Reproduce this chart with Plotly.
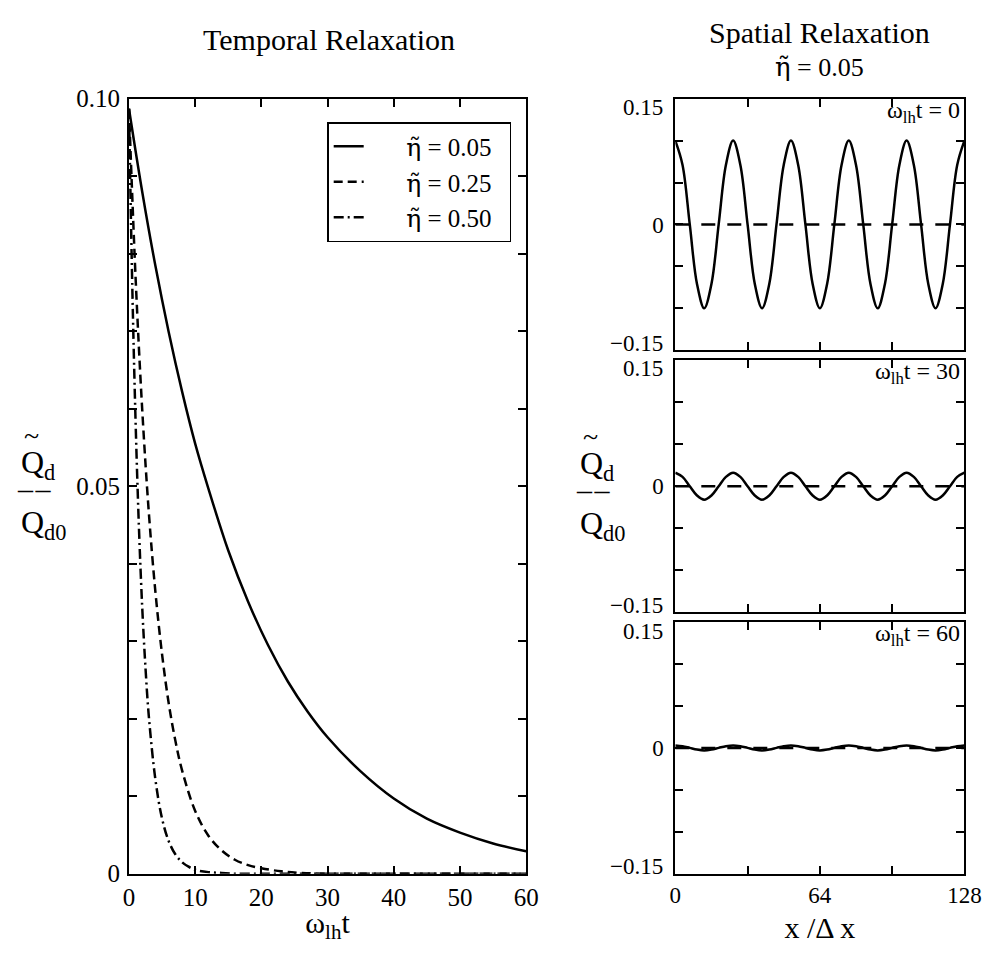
import plotly.graph_objects as go

# ---------------- Temporal relaxation (left panel) ----------------
t_eta005 = [0, 2, 4, 6, 8, 10, 12, 15, 18, 21, 24, 27, 30, 35, 40, 45, 50, 55, 60]
q_eta005 = [0.0987, 0.0880, 0.0784, 0.0699, 0.0623, 0.0555, 0.0497, 0.0417, 0.0351, 0.0295,
            0.0248, 0.0209, 0.0176, 0.0132, 0.0097, 0.0071, 0.0053, 0.0039, 0.0029]

t_eta025 = [0, 1, 2, 3, 4, 5, 6, 7, 8, 10, 12, 14, 16, 18, 20, 23, 26, 30, 40, 50, 60]
q_eta025 = [0.0987, 0.0769, 0.0599, 0.0466, 0.0363, 0.0283, 0.0220, 0.0172, 0.0134, 0.0081,
            0.0049, 0.0030, 0.0018, 0.0011, 0.0007, 0.0003, 0.0001, 0.0, 0.0, 0.0, 0.0]

t_eta050 = [0, 0.5, 1, 1.5, 2, 2.5, 3, 4, 5, 6, 7, 8, 9, 10, 12, 14, 16, 20, 30, 40, 50, 60]
q_eta050 = [0.0987, 0.0758, 0.0583, 0.0448, 0.0344, 0.0265, 0.0203, 0.0121, 0.0071, 0.0042,
            0.0025, 0.0015, 0.0009, 0.0005, 0.0002, 0.0001, 0.0, 0.0, 0.0, 0.0, 0.0, 0.0]

ETA = '<span style="font-family:DejaVu Serif">η̃</span>'
legend_names = [ETA + " = 0.05", ETA + " = 0.25", ETA + " = 0.50"]

# ---------------- Spatial relaxation (right panels) ----------------
x_grid = [0, 3.2, 6.4, 9.6, 12.8, 16, 19.2, 22.4, 25.6, 28.8, 32, 35.2, 38.4, 41.6, 44.8,
          48, 51.2, 54.4, 57.6, 60.8, 64, 67.2, 70.4, 73.6, 76.8, 80, 83.2, 86.4, 89.6,
          92.8, 96, 99.2, 102.4, 105.6, 108.8, 112, 115.2, 118.4, 121.6, 124.8, 128]

wave_t0 = [0.100, 0.071, 0.000, -0.071, -0.100, -0.071, 0.000, 0.071,
           0.100, 0.071, 0.000, -0.071, -0.100, -0.071, 0.000, 0.071,
           0.100, 0.071, 0.000, -0.071, -0.100, -0.071, 0.000, 0.071,
           0.100, 0.071, 0.000, -0.071, -0.100, -0.071, 0.000, 0.071,
           0.100, 0.071, 0.000, -0.071, -0.100, -0.071, 0.000, 0.071,
           0.100]

wave_t30 = [0.016, 0.011, 0.000, -0.011, -0.016, -0.011, 0.000, 0.011,
            0.016, 0.011, 0.000, -0.011, -0.016, -0.011, 0.000, 0.011,
            0.016, 0.011, 0.000, -0.011, -0.016, -0.011, 0.000, 0.011,
            0.016, 0.011, 0.000, -0.011, -0.016, -0.011, 0.000, 0.011,
            0.016, 0.011, 0.000, -0.011, -0.016, -0.011, 0.000, 0.011,
            0.016]

wave_t60 = [0.003, 0.002, 0.000, -0.002, -0.003, -0.002, 0.000, 0.002,
            0.003, 0.002, 0.000, -0.002, -0.003, -0.002, 0.000, 0.002,
            0.003, 0.002, 0.000, -0.002, -0.003, -0.002, 0.000, 0.002,
            0.003, 0.002, 0.000, -0.002, -0.003, -0.002, 0.000, 0.002,
            0.003, 0.002, 0.000, -0.002, -0.003, -0.002, 0.000, 0.002,
            0.003]

zero_x = [0, 128]
zero_y = [0, 0]

panel_labels = ["ω<sub>lh</sub>t = 0", "ω<sub>lh</sub>t = 30", "ω<sub>lh</sub>t = 60"]

FONT = "Liberation Serif"
BLACK = "black"

fig = go.Figure()

PAD_L = "\u2002\u2002\u2002"
PAD_R = "\u2002"
fig.add_trace(go.Scatter(x=t_eta005, y=q_eta005, mode="lines", name=PAD_L + legend_names[0] + PAD_R,
                         line=dict(color=BLACK, width=2.5, shape="spline", smoothing=1.0),
                         xaxis="x", yaxis="y"))
fig.add_trace(go.Scatter(x=t_eta025, y=q_eta025, mode="lines", name=PAD_L + legend_names[1] + PAD_R,
                         line=dict(color=BLACK, width=2.5, dash="9px,5px", shape="spline", smoothing=1.0),
                         xaxis="x", yaxis="y"))
fig.add_trace(go.Scatter(x=t_eta050, y=q_eta050, mode="lines", name=PAD_L + legend_names[2] + PAD_R,
                         line=dict(color=BLACK, width=2.5, dash="10px,4px,2px,4px", shape="spline", smoothing=1.0),
                         xaxis="x", yaxis="y"))

waves = [wave_t0, wave_t30, wave_t60]
for i, w in enumerate(waves):
    xa = "x%d" % (i + 2)
    ya = "y%d" % (i + 2)
    fig.add_trace(go.Scatter(x=zero_x, y=zero_y, mode="lines", showlegend=False,
                             line=dict(color=BLACK, width=2.5, dash="14px,12px"),
                             xaxis=xa, yaxis=ya))
    fig.add_trace(go.Scatter(x=x_grid, y=w, mode="lines", showlegend=False,
                             line=dict(color=BLACK, width=2.5, shape="spline", smoothing=1.0),
                             xaxis=xa, yaxis=ya))

# figure size chosen so that the page (with the browser's default 8px body margin) fits the window
FW, FH = 992, 936
OFFX, OFFY = 8, 8
def px_x(p):
    return (p - OFFX) / FW
def px_y(p):
    return 1 - (p - OFFY) / FH

def axis_style(size):
    return dict(showline=True, linecolor=BLACK, linewidth=2, mirror="allticks",
                ticks="inside", ticklen=8, tickwidth=1.5, tickcolor=BLACK,
                showgrid=False, zeroline=False,
                tickfont=dict(family=FONT, size=size, color=BLACK))

MINOR = dict(ticks="inside", ticklen=8, tickwidth=1.5, tickcolor=BLACK)

left_x_dom = [px_x(125.7), px_x(532.3)]
left_y_dom = [px_y(886), px_y(88)]
right_x_dom = [px_x(685), px_x(981)]
p_y_doms = [[px_y(347), px_y(88)], [px_y(617), px_y(357)], [px_y(886), px_y(627)]]

layout = dict(
    width=FW, height=FH,
    margin=dict(l=0, r=0, t=0, b=0),
    paper_bgcolor="white", plot_bgcolor="white",
    font=dict(family=FONT, color=BLACK),
    xaxis=dict(domain=left_x_dom, range=[0, 60], tickvals=[0, 10, 20, 30, 40, 50, 60],
               anchor="y",
               title=dict(text="ω<sub>lh</sub>t", font=dict(family=FONT, size=30, color=BLACK), standoff=2),
               **axis_style(25)),
    yaxis=dict(domain=left_y_dom, range=[0, 0.1], tickvals=[0, 0.05, 0.1],
               ticktext=["0", "0.05", "0.10"], anchor="x", ticklabelstandoff=2,
               minor=dict(dtick=0.01, tick0=0, **MINOR),
               **axis_style(25)),
    legend=dict(x=px_x(517), xanchor="right", y=px_y(112), yanchor="top",
                bordercolor=BLACK, borderwidth=1.5, bgcolor="white",
                font=dict(family=FONT, size=25, color=BLACK),
                tracegroupgap=0),
    showlegend=True,
)

for i in range(3):
    xk = "xaxis%d" % (i + 2)
    yk = "yaxis%d" % (i + 2)
    xd = dict(domain=right_x_dom, range=[0, 128], tickvals=[0, 64, 128],
              anchor="y%d" % (i + 2),
              minor=dict(dtick=32, tick0=0, **MINOR),
              showticklabels=(i == 2), **axis_style(23))
    if i == 2:
        xd["title"] = dict(text="x /Δ x", font=dict(family=FONT, size=30, color=BLACK), standoff=14)
    layout[xk] = xd
    layout[yk] = dict(domain=p_y_doms[i], range=[-0.15, 0.15], tickvals=[0], ticktext=["0"],
                      anchor="x%d" % (i + 2), ticklabelstandoff=5,
                      minor=dict(dtick=0.05, tick0=0, **MINOR),
                      **axis_style(23))

fig.update_layout(**layout)

ann = []
ann.append(dict(text="Temporal Relaxation", x=px_x(330), y=px_y(27), xref="paper", yref="paper",
                xanchor="center", yanchor="middle", showarrow=False,
                font=dict(family=FONT, size=30, color=BLACK)))
ann.append(dict(text="Spatial Relaxation", x=px_x(833), y=px_y(20), xref="paper", yref="paper",
                xanchor="center", yanchor="middle", showarrow=False,
                font=dict(family=FONT, size=30, color=BLACK)))
ann.append(dict(text=ETA + " = 0.05", x=px_x(833), y=px_y(55), xref="paper", yref="paper",
                xanchor="center", yanchor="middle", showarrow=False,
                font=dict(family=FONT, size=26, color=BLACK)))

for i in range(3):
    ann.append(dict(text=panel_labels[i], x=1, y=1, xref="x%d domain" % (i + 2), yref="y%d domain" % (i + 2),
                    xanchor="right", yanchor="top", xshift=-2, yshift=4, showarrow=False,
                    font=dict(family=FONT, size=24, color=BLACK)))
    ann.append(dict(text="0.15", x=px_x(674), y=0.15, xref="paper", yref="y%d" % (i + 2),
                    xanchor="right", yanchor="middle", yshift=-9, showarrow=False,
                    font=dict(family=FONT, size=23, color=BLACK)))
    ann.append(dict(text="\u22120.15", x=px_x(674), y=-0.15, xref="paper", yref="y%d" % (i + 2),
                    xanchor="right", yanchor="middle", yshift=7, showarrow=False,
                    font=dict(family=FONT, size=23, color=BLACK)))

for (qx, qy) in [(13, 460), (585, 461)]:
    ann.append(dict(text="~", x=px_x(qx + 13), y=px_y(qy - 25), xref="paper", yref="paper",
                    xanchor="center", yanchor="middle", showarrow=False,
                    font=dict(family=FONT, size=28, color=BLACK)))
    ann.append(dict(text="Q<sub>d</sub>", x=px_x(qx), y=px_y(qy + 5), xref="paper", yref="paper",
                    xanchor="left", yanchor="middle", showarrow=False,
                    font=dict(family=FONT, size=32, color=BLACK)))
    ann.append(dict(text="\u2013\u200a\u2013", x=px_x(qx + 16), y=px_y(qy + 29), xref="paper", yref="paper",
                    xanchor="center", yanchor="middle", showarrow=False,
                    font=dict(family=FONT, size=30, color=BLACK)))
    ann.append(dict(text="Q<sub>d0</sub>", x=px_x(qx), y=px_y(qy + 66), xref="paper", yref="paper",
                    xanchor="left", yanchor="middle", showarrow=False,
                    font=dict(family=FONT, size=32, color=BLACK)))

fig.update_layout(annotations=ann)

fig.write_html("out.html", config={"displayModeBar": False})
